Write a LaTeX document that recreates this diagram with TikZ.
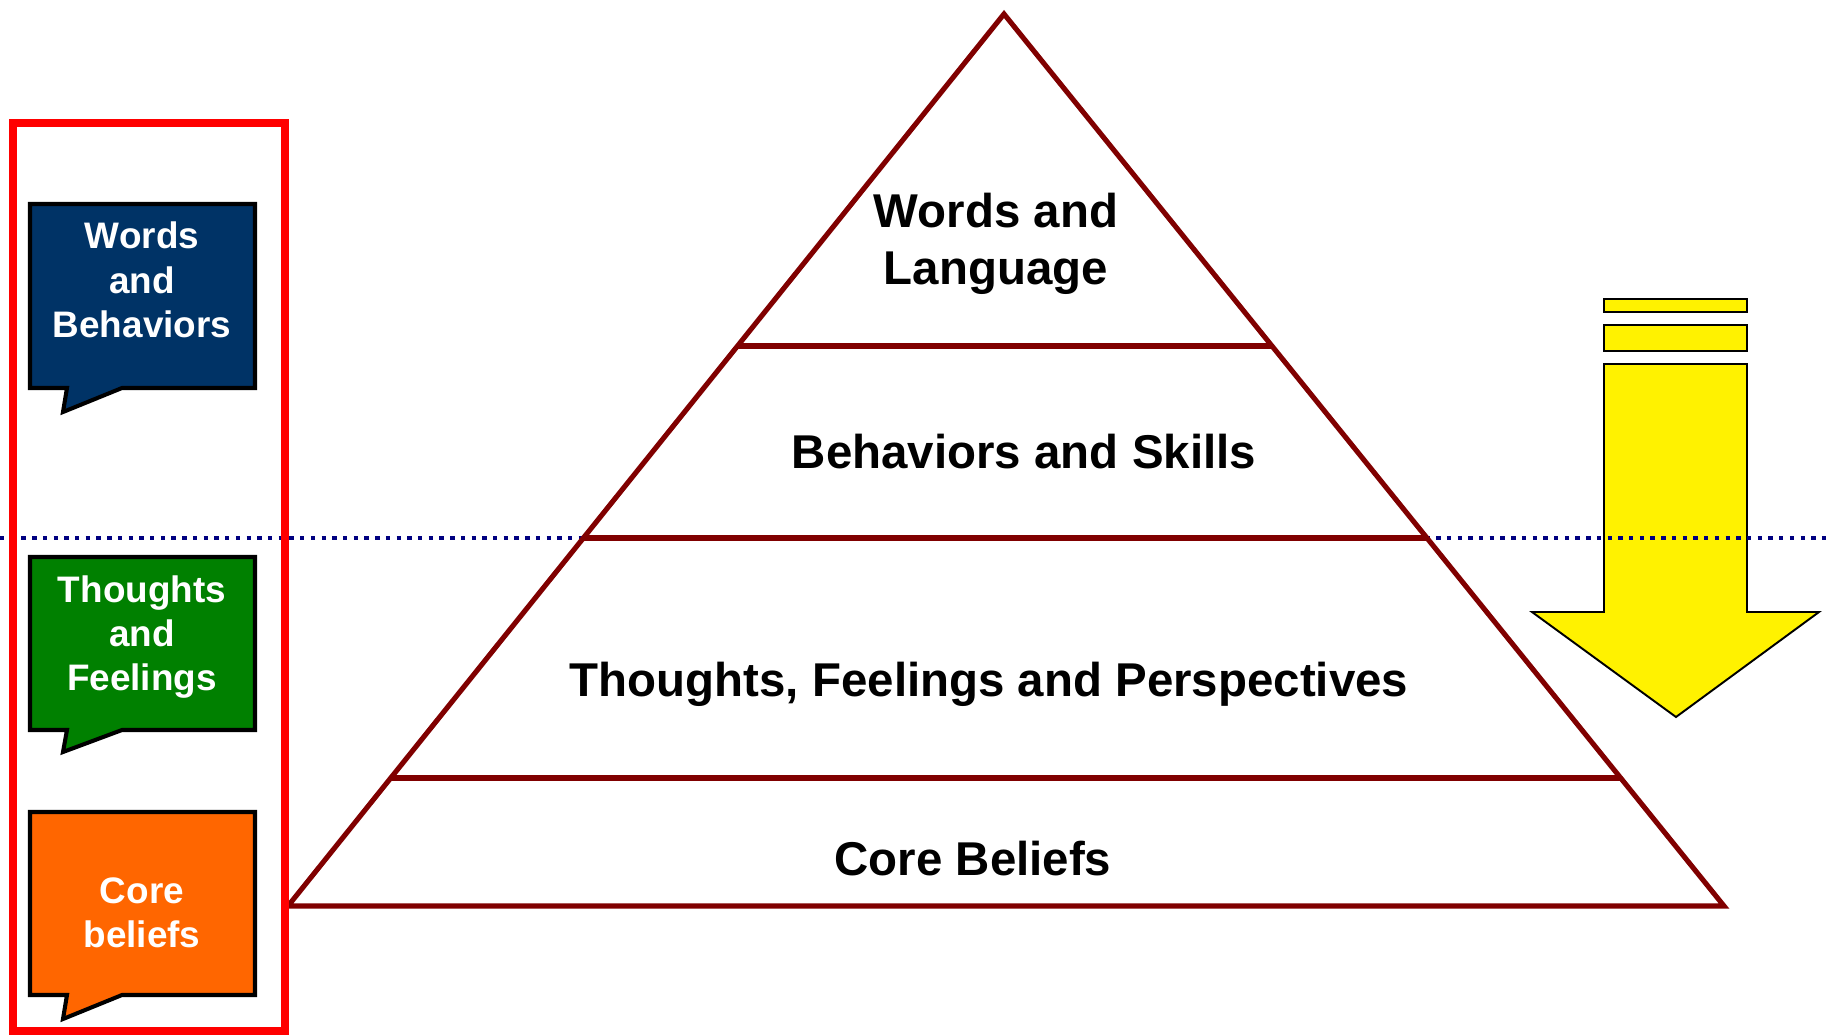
\documentclass[tikz,border=0pt]{standalone}
\usepackage{fontspec}
\setmainfont{Liberation Sans}
\usetikzlibrary{positioning,calc}

\definecolor{pyramidred}{RGB}{128,0,0}
\definecolor{wordsblue}{RGB}{0,51,102}
\definecolor{thoughtsgreen}{RGB}{0,128,0}
\definecolor{coreorange}{RGB}{255,102,0}
\definecolor{dividernavy}{RGB}{0,0,128}

\begin{document}
\begin{tikzpicture}[x=0.02cm, y=-0.02cm,
  level/.style={font=\fontsize{27}{32.3}\selectfont\bfseries, align=center, inner sep=0pt},
  rung/.style={draw=pyramidred, line width=2.9pt},
  bubble/.style={draw=black, line width=2.3pt, line join=miter},
  bubbletext/.style={text=white, font=\fontsize{21}{25.2}\selectfont\bfseries, align=center, inner sep=0pt},
  arrowpart/.style={draw=black, fill=yellow, line width=1.1pt, line join=miter}]
  \useasboundingbox (0,0) rectangle (1827,1035);

  % yellow arrow with the two bars above it
  \draw[arrowpart] (1604,299) rectangle (1747,312);
  \draw[arrowpart] (1604,325) rectangle (1747,351);
  \draw[arrowpart] (1604,364) -- (1747,364) -- (1747,612) -- (1819,612)
    -- (1676,717) -- (1532,612) -- (1604,612) -- cycle;

  % dotted divider
  \coordinate (dl) at (0,538);
  \coordinate (dr) at (1827,538);
  \draw[dividernavy, line width=2.6pt, dash pattern=on 2.5pt off 3.6pt] (dl) -- (dr);

  % pyramid
  \coordinate (apex) at (1004,14);
  \coordinate (bl) at (288,906);
  \coordinate (br) at (1724,906);
  \filldraw[fill=white, draw=pyramidred, line width=2.9pt, line join=miter]
    (apex) -- (br) -- (bl) -- cycle;
  \draw[rung] ($(apex)!0.3722!(bl)$) -- ($(apex)!0.3722!(br)$);
  \draw[rung] ($(apex)!0.5874!(bl)$) -- ($(apex)!0.5874!(br)$);
  \draw[rung] ($(apex)!0.8565!(bl)$) -- ($(apex)!0.8565!(br)$);

  \node[level] (words) at (996,244) {Words and\\Language};
  \node[level, anchor=base] (behav) at (1024,468) {Behaviors and Skills};
  \node[level, anchor=base] (thoughts) at (989,696) {Thoughts, Feelings and Perspectives};
  \node[level, anchor=base] (core) at (973,875) {Core Beliefs};

  % red frame round the speech bubbles
  \draw[red, line width=4pt] (13,123) rectangle (285,1031);

  % speech bubbles
  \draw[bubble, fill=wordsblue] (30,204) -- (255,204) -- (255,388) -- (122,388)
    -- (63,412) -- (67,388) -- (30,388) -- cycle;
  \node[bubbletext] (wbtext) at (142,280) {Words\\and\\Behaviors};

  \draw[bubble, fill=thoughtsgreen] (30,557) -- (255,557) -- (255,730) -- (122,730)
    -- (63,752) -- (67,730) -- (30,730) -- cycle;
  \node[bubbletext] (tftext) at (142,637) {Thoughts\\and\\Feelings};

  \draw[bubble, fill=coreorange] (30,812) -- (255,812) -- (255,995) -- (122,995)
    -- (63,1019) -- (67,995) -- (30,995) -- cycle;
  \node[bubbletext] (cbtext) at (142,913) {Core\\beliefs};
\end{tikzpicture}
\end{document}
